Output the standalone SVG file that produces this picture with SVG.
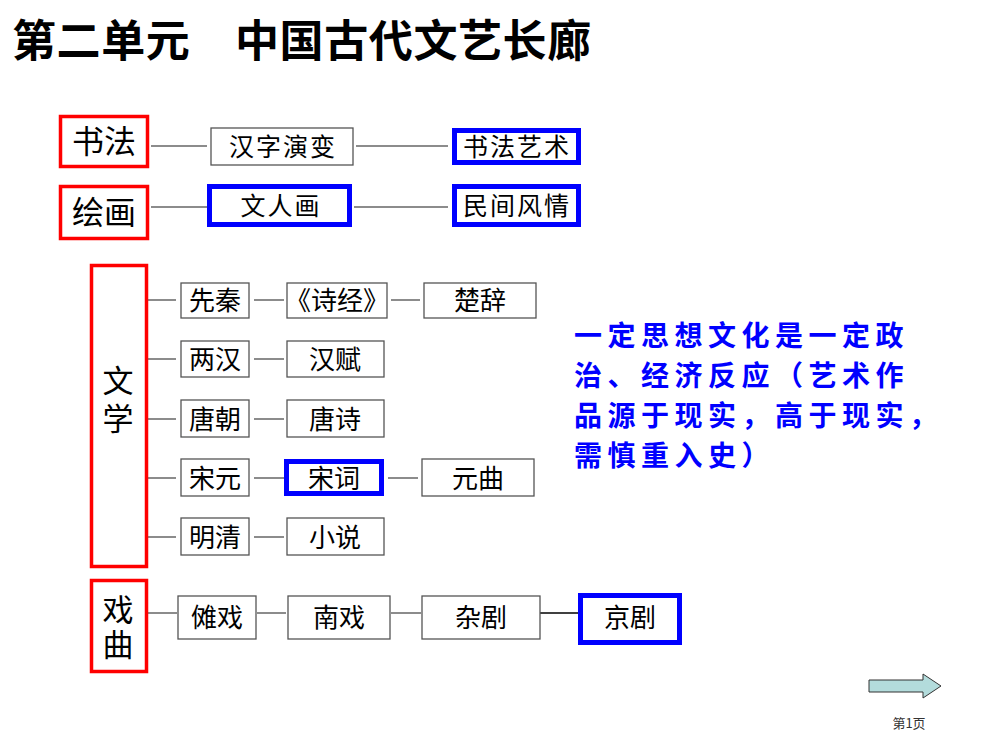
<svg xmlns="http://www.w3.org/2000/svg" width="999" height="750" viewBox="0 0 999 750">
<style>
text{font-family:"Noto Sans CJK SC","Liberation Sans",sans-serif;fill:#000;}
.red{fill:#fff;stroke:#ff0000;stroke-width:3.5;}
.blue{fill:#fff;stroke:#0000ff;stroke-width:5;}
.box{fill:#fff;stroke:#555;stroke-width:1.3;}
.ln{stroke:#666;stroke-width:1.5;fill:none;}
.cat{font-size:32px;text-anchor:middle;}
.vcat{font-size:31px;text-anchor:middle;writing-mode:vertical-rl;}
.lb{font-size:25px;text-anchor:middle;letter-spacing:2px;}
.lit{font-size:26px;text-anchor:middle;}
.note{font-size:28px;font-weight:bold;fill:#0000ff;letter-spacing:5.5px;}
</style>
<rect width="999" height="750" fill="#fff"/>
<text x="12" y="57" style="font-size:44px;font-weight:bold;letter-spacing:0.6px">第二单元　中国古代文艺长廊</text>

<g id="connectors">
<line class="ln" x1="151" y1="146" x2="207" y2="146"/>
<line class="ln" x1="356" y1="146" x2="448" y2="146"/>
<line class="ln" x1="151" y1="207" x2="207" y2="207"/>
<line class="ln" x1="354" y1="207" x2="448" y2="207"/>
<line class="ln" x1="148" y1="300" x2="176" y2="300"/>
<line class="ln" x1="254" y1="300" x2="284" y2="300"/>
<line class="ln" x1="391" y1="300" x2="420" y2="300"/>
<line class="ln" x1="148" y1="359" x2="176" y2="359"/>
<line class="ln" x1="254" y1="359" x2="284" y2="359"/>
<line class="ln" x1="148" y1="419" x2="176" y2="419"/>
<line class="ln" x1="254" y1="419" x2="284" y2="419"/>
<line class="ln" x1="148" y1="478" x2="176" y2="478"/>
<line class="ln" x1="254" y1="478" x2="284" y2="478"/>
<line class="ln" x1="388" y1="478" x2="418" y2="478"/>
<line class="ln" x1="148" y1="537" x2="176" y2="537"/>
<line class="ln" x1="254" y1="537" x2="284" y2="537"/>
<line class="ln" x1="148" y1="613" x2="177" y2="613"/>
<line class="ln" x1="257" y1="613" x2="286" y2="613"/>
<line class="ln" x1="391" y1="613" x2="421" y2="613"/>
<line x1="540" y1="613" x2="578" y2="613" stroke="#000" stroke-width="1.5"/>
</g>

<g id="shufa"><rect class="red" x="60.5" y="116.5" width="87" height="50"/><text class="cat" x="104" y="153">书法</text></g>
<g id="hanzi"><rect class="box" x="211" y="128" width="142" height="37"/><text class="lb" x="283" y="156">汉字演变</text></g>
<g id="shufayishu"><rect class="blue" x="454.5" y="130.5" width="124" height="32"/><text class="lb" x="517" y="156">书法艺术</text></g>
<g id="huihua"><rect class="red" x="60.5" y="186.5" width="87" height="52"/><text class="cat" x="104" y="224">绘画</text></g>
<g id="wenrenhua"><rect class="blue" x="209.5" y="186.5" width="140" height="38"/><text class="lb" x="281" y="215">文人画</text></g>
<g id="minjian"><rect class="blue" x="454.5" y="186.5" width="124" height="38"/><text class="lb" x="517" y="215">民间风情</text></g>

<g id="wenxue"><rect class="red" x="91.5" y="265.5" width="55" height="301"/><text class="vcat" x="118" y="403" style="letter-spacing:7px">文学</text></g>
<g id="xianqin"><rect class="box" x="181" y="283" width="68" height="35"/><text class="lit" x="215" y="310">先秦</text></g>
<g id="shijing"><rect class="box" x="287" y="283" width="100" height="35"/><text class="lit" x="337" y="310">《诗经》</text></g>
<g id="chuci"><rect class="box" x="424" y="283" width="112" height="35"/><text class="lit" x="480" y="310">楚辞</text></g>
<g id="lianghan"><rect class="box" x="181" y="341" width="68" height="36"/><text class="lit" x="215" y="369">两汉</text></g>
<g id="hanfu"><rect class="box" x="287" y="341" width="97" height="36"/><text class="lit" x="335" y="369">汉赋</text></g>
<g id="tangchao"><rect class="box" x="181" y="400" width="68" height="37"/><text class="lit" x="215" y="429">唐朝</text></g>
<g id="tangshi"><rect class="box" x="287" y="400" width="97" height="37"/><text class="lit" x="335" y="429">唐诗</text></g>
<g id="songyuan"><rect class="box" x="181" y="459" width="68" height="37"/><text class="lit" x="215" y="488">宋元</text></g>
<g id="songci"><rect class="blue" x="286.5" y="461.5" width="95" height="32"/><text class="lit" x="334" y="488">宋词</text></g>
<g id="yuanqu"><rect class="box" x="422" y="459" width="112" height="37"/><text class="lit" x="478" y="488">元曲</text></g>
<g id="mingqing"><rect class="box" x="181" y="518" width="68" height="37"/><text class="lit" x="215" y="547">明清</text></g>
<g id="xiaoshuo"><rect class="box" x="287" y="518" width="97" height="37"/><text class="lit" x="335" y="547">小说</text></g>

<g id="xiqu"><rect class="red" x="91.5" y="580.5" width="55" height="91"/><text class="vcat" x="118" y="629" style="letter-spacing:4px">戏曲</text></g>
<g id="nuoxi"><rect class="box" x="178" y="596" width="78" height="43"/><text class="lit" x="217" y="627">傩戏</text></g>
<g id="nanxi"><rect class="box" x="288" y="596" width="102" height="43"/><text class="lit" x="339" y="627">南戏</text></g>
<g id="zaju"><rect class="box" x="422" y="596" width="118" height="43"/><text class="lit" x="481" y="627">杂剧</text></g>
<g id="jingju"><rect class="blue" x="580.5" y="595.5" width="99" height="47"/><text class="lit" x="630" y="627">京剧</text></g>

<g id="note">
<text class="note" x="574" y="346">一定思想文化是一定政</text>
<text class="note" x="574" y="386">治、经济反应（艺术作</text>
<text class="note" x="574" y="426">品源于现实，高于现实，</text>
<text class="note" x="574" y="466">需慎重入史）</text>
</g>

<g id="arrow"><polygon points="869,680 923,680 923,674 941,686 923,698 923,692 869,692" fill="#b3dcdc" stroke="#333" stroke-width="1"/></g>
<text x="909" y="728" style="font-size:13px;text-anchor:middle;fill:#333">第1页</text>
</svg>
